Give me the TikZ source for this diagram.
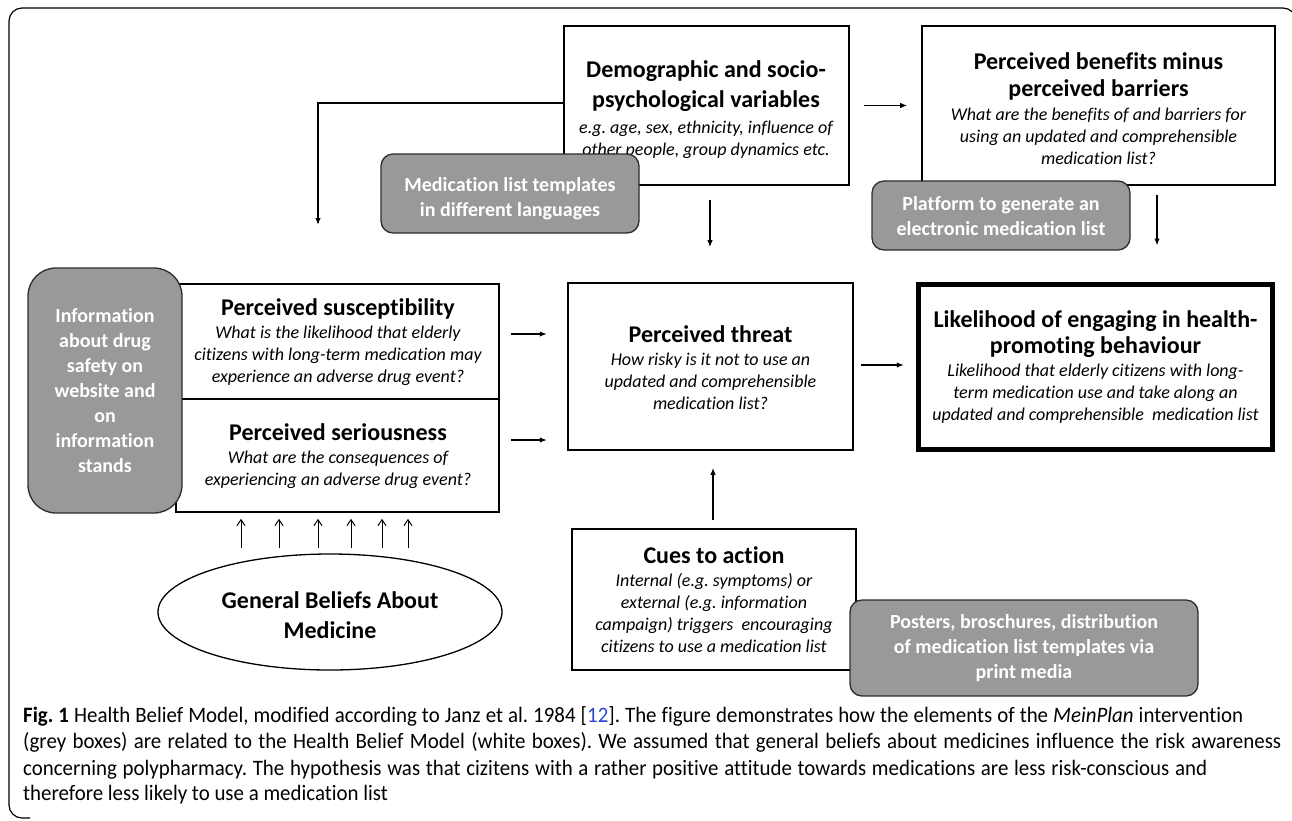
\documentclass[tikz,border=0pt]{standalone}
\usepackage{fontspec}
\setmainfont{Carlito}[UprightFont={Carlito},BoldFont={Carlito Bold},ItalicFont={Carlito Italic},BoldItalicFont={Carlito Bold Italic},Ligatures=NoCommon]
\newfontfamily\capfont{Carlito}[UprightFont={Carlito},BoldFont={Carlito Bold},ItalicFont={Carlito Italic},BoldItalicFont={Carlito Bold Italic},FakeStretch=0.95,Ligatures=NoCommon]
\usetikzlibrary{arrows.meta,shapes.geometric,calc}
\definecolor{greyfill}{RGB}{153,153,153}
\definecolor{greyedge}{RGB}{45,45,45}
\definecolor{refblue}{RGB}{40,70,210}
\newcommand{\tf}[1]{{\fontsize{24}{28}\selectfont\bfseries\upshape #1}}
\frenchspacing
\begin{document}
\begin{tikzpicture}[x=1pt,y=-1pt,
  wbox/.style={draw=black,line width=1.6pt,fill=white,inner sep=0pt},
  gbox/.style={draw=greyedge,line width=1.3pt,fill=greyfill,rounded corners=12pt,inner sep=0pt},
  txt/.style={align=center,inner sep=0pt,font=\fontsize{18}{22}\selectfont\itshape},
  gtxt/.style={align=center,inner sep=0pt,text=white,font=\fontsize{20}{25}\selectfont\bfseries},
  arr/.style={line width=1.3pt,-{Latex[length=7pt,width=5.5pt]}},
  thinarr/.style={line width=1pt,-{Straight Barb[length=6pt,width=8pt]}},
  captxt/.style={anchor=base west,inner sep=0pt,font=\capfont\fontsize{22}{26}\selectfont}]
\useasboundingbox (0,0) rectangle (1292,820);
% frame
\draw[line width=1.2pt,rounded corners=13pt] (1296,40) -- (1296,8) -- (9,8) -- (9,818) -- (30,818);
% white boxes
\node[wbox,minimum width=285pt,minimum height=159pt] (demo) at (706.5,105.5) {};
\node[txt] (demot) at (706,110) {\tf{Demographic and socio-}\\[8pt]\tf{psychological variables}\\[4pt]e.g. age, sex, ethnicity, influence of\\other people, group dynamics etc.};
\node[wbox,minimum width=353pt,minimum height=159pt] (ben) at (1098.5,105.5) {};
\node[txt] (bent) at (1098.5,109) {\tf{Perceived benefits minus}\\[5pt]\tf{perceived barriers}\\[2pt]What are the benefits of and barriers for\\using an updated and comprehensible\\medication list?};
\node[wbox,minimum width=323pt,minimum height=115pt] (sus) at (337.5,341.5) {};
\node[txt] (sust) at (338,342) {\tf{Perceived susceptibility}\\[1pt]What is the likelihood that elderly\\citizens with long-term medication may\\experience an adverse drug event?};
\node[wbox,minimum width=323pt,minimum height=113pt] (ser) at (337.5,455.5) {};
\node[txt] (sert) at (338,456.5) {\tf{Perceived seriousness}\\[1pt]What are the consequences of\\experiencing an adverse drug event?};
\node[wbox,minimum width=285pt,minimum height=167pt] (threat) at (710.5,366.5) {};
\node[txt] (threatt) at (710.5,367.5) {\tf{Perceived threat}\\[1pt]How risky is it not to use an\\updated and comprehensible\\medication list?};
\node[wbox,line width=5pt,minimum width=354pt,minimum height=165pt] (lik) at (1095.5,367) {};
\node[txt] (likt) at (1095.5,367.5) {\tf{Likelihood of engaging in health-}\\[4pt]\tf{promoting behaviour}\\[1pt]Likelihood that elderly citizens with long-\\term medication use and take along an\\updated and comprehensible\ \ medication list};
\node[wbox,minimum width=284pt,minimum height=141pt] (cues) at (714,599.5) {};
\node[txt] (cuest) at (714,600) {\tf{Cues to action}\\[1pt]Internal (e.g. symptoms) or\\external (e.g. information\\campaign) triggers\ \ encouraging\\citizens to use a medication list};
\node[draw=black,line width=1.3pt,ellipse,fill=white,inner sep=0pt,minimum width=344pt,minimum height=116pt] (bel) at (330,612) {};
\node[align=center,inner sep=0pt,font=\fontsize{24}{30}\selectfont\bfseries] (belt) at (330,615) {General Beliefs About\\Medicine};
% grey boxes
\node[gbox,minimum width=258pt,minimum height=79pt] (gmed) at (510,193.5) {};
\node[gtxt] (gmedt) at (510,199) {Medication list templates\\in different languages};
\node[gbox,minimum width=258pt,minimum height=69pt] (gplat) at (1001,215.5) {};
\node[gtxt] (gplatt) at (1001,216) {Platform to generate an\\electronic medication list};
\node[gbox,rounded corners=28pt,minimum width=154pt,minimum height=245pt] (ginfo) at (105,390.5) {};
\node[gtxt] (ginfot) at (105,391) {Information\\about drug\\safety on\\website and\\on\\information\\stands};
\node[gbox,minimum width=348pt,minimum height=96pt] (gpost) at (1024,648) {};
\node[gtxt] (gpostt) at (1024,648.5) {Posters, broschures, distribution\\of medication list templates via\\print media};
% connectors
\coordinate (lt) at (318,225);
\draw[arr] ([yshift=2.5pt]demo.west) -| (lt);
\draw[arr] ([xshift=14pt]demo.east) -- ([xshift=-14pt]ben.west);
\draw[arr] ([xshift=3.5pt,yshift=-14pt]demo.south) -- ([xshift=-0.5pt,yshift=35pt]threat.north);
\draw[arr] ([xshift=58.5pt,yshift=-9pt]ben.south) -- ([xshift=61.5pt,yshift=36.5pt]lik.north);
\draw[arr] ([xshift=11pt,yshift=7.5pt]sus.east) -- ++(36,0);
\draw[arr] ([xshift=11pt,yshift=15.5pt]ser.east) -- ++(36,0);
\draw[arr] ([xshift=7pt,yshift=1.5pt]threat.east) -- ++(43,0);
\draw[arr] ([xshift=-1pt,yshift=8pt]cues.north) -- ([xshift=2.5pt,yshift=-17pt]threat.south);
\foreach \x in {241,279,318,351,382,408}
  \draw[thinarr] ($(bel.north -| \x,0)+(0,-5)$) -- ($(ser.south -| \x,0)+(0,6)$);
% caption
\node[captxt] (cap1) at (23,722) {\makebox[1220pt][s]{\textbf{Fig. 1} Health Belief Model, modified according to Janz et al. 1984 [{\color{refblue}12}]. The figure demonstrates how the elements of the \textit{MeinPlan} intervention}};
\node[captxt] (cap2) at (23,748) {\makebox[1258pt][s]{(grey boxes) are related to the Health Belief Model (white boxes). We assumed that general beliefs about medicines influence the risk awareness}};
\node[captxt] (cap3) at (23,775) {\makebox[1184pt][s]{concerning polypharmacy. The hypothesis was that cizitens with a rather positive attitude towards medications are less risk-conscious and}};
\node[captxt] (cap4) at (23,800) {therefore less likely to use a medication list};
\end{tikzpicture}
\end{document}
